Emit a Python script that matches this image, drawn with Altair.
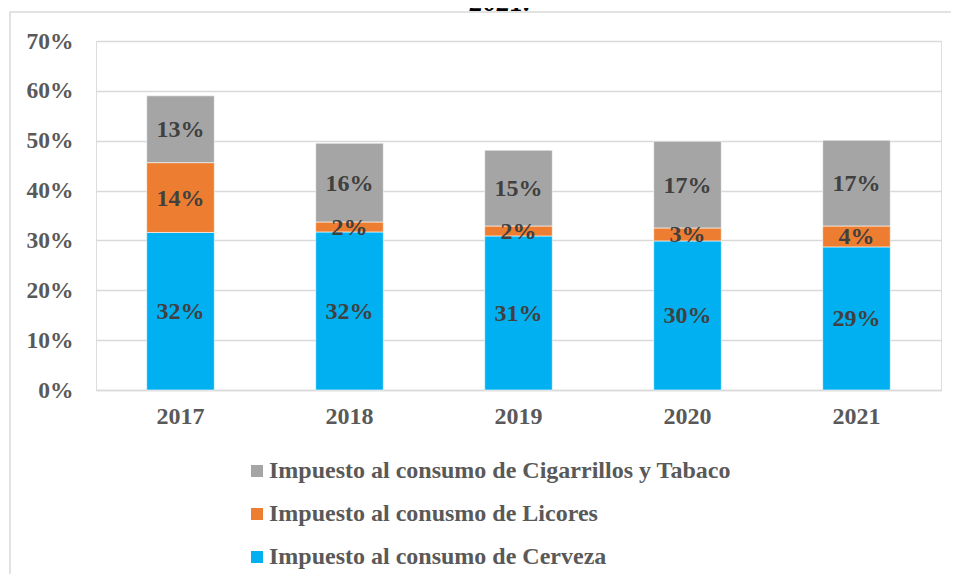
import altair as alt
import pandas as pd

years = ["2017", "2018", "2019", "2020", "2021"]
series = [
    "Impuesto al consumo de Cerveza",
    "Impuesto al conusmo de Licores",
    "Impuesto al consumo de Cigarrillos y Tabaco",
]
cerveza = [0.316, 0.317, 0.309, 0.299, 0.287]
licores = [0.140, 0.020, 0.020, 0.026, 0.042]
cigarrillos = [0.134, 0.158, 0.152, 0.174, 0.172]
colors = ["#00B0F0", "#ED7D31", "#A5A5A5"]
title_text = "2021."

rows = []
for i, y in enumerate(years):
    for k, (name, vals) in enumerate(zip(series, [cerveza, licores, cigarrillos])):
        rows.append({"year": y, "serie": name, "value": vals[i], "ord": k})
df = pd.DataFrame(rows)

FONT = "Liberation Serif"

legend_order = [series[2], series[1], series[0]]
legend_colors = [colors[2], colors[1], colors[0]]

base = alt.Chart(df).transform_stack(
    stack="value", groupby=["year"], as_=["y0", "y1"], sort=[alt.SortField("ord", order="ascending")]
).transform_calculate(mid="(datum.y0 + datum.y1) / 2")

xenc = alt.X(
    "year:N",
    title=None,
    sort=years,
    scale=alt.Scale(paddingInner=0.6, paddingOuter=0.3),
    axis=alt.Axis(
        labelAngle=0, labelFont=FONT, labelFontSize=24, labelFontWeight="bold",
        labelColor="#595959", labelPadding=14, ticks=False, domainColor="#d9d9d9",
        domainWidth=1.5, grid=False,
    ),
)

bars = base.mark_bar(stroke="white", strokeWidth=0.6).encode(
    x=xenc,
    y=alt.Y(
        "y0:Q",
        title=None,
        scale=alt.Scale(domain=[0, 0.7]),
        axis=alt.Axis(
            values=[0, 0.1, 0.2, 0.3, 0.4, 0.5, 0.6, 0.7], format=".0%",
            labelFont=FONT, labelFontSize=23.5, labelFontWeight="bold", labelColor="#595959",
            labelPadding=23, ticks=False, domain=False, gridColor="#d9d9d9", gridWidth=1.5,
        ),
    ),
    y2="y1:Q",
    color=alt.Color(
        "serie:N",
        scale=alt.Scale(domain=legend_order, range=legend_colors),
        legend=alt.Legend(
            title=None, orient="none", legendX=149, legendY=418, direction="vertical",
            symbolType="square", symbolSize=144, symbolStrokeWidth=0,
            labelFont=FONT, labelFontSize=24, labelFontWeight="bold", labelColor="#595959",
            rowPadding=19, labelOffset=0, labelLimit=700,
        ),
    ),
)

labels = base.mark_text(
    font=FONT, fontSize=24, fontWeight="bold", color="#404040", baseline="middle", dy=1
).encode(
    x=alt.X("year:N", sort=years),
    y=alt.Y("mid:Q"),
    text=alt.Text("value:Q", format=".0%"),
)

title = alt.Chart(pd.DataFrame({"t": [title_text]})).mark_text(
    font=FONT, fontSize=27, fontWeight="bold", fontStyle="italic", color="#000000",
    baseline="alphabetic", align="center",
).encode(x=alt.value(404), y=alt.value(-30), text="t:N")

frame = alt.Chart(pd.DataFrame({"a": [0]})).mark_rect(
    fill=None, stroke="#d9d9d9", strokeWidth=1.5
).encode(x=alt.value(-86), x2=alt.value(900), y=alt.value(-29), y2=alt.value(600))

chart = alt.layer(frame, bars, labels, title).properties(
    width=845, height=349,
    autosize=alt.AutoSizeParams(type="none"),
    padding={"left": 88, "top": 33, "right": 10, "bottom": 184},
).configure_view(stroke=None).configure(background="white")

chart.save("out.html", embed_options={"renderer": "svg", "actions": False})
